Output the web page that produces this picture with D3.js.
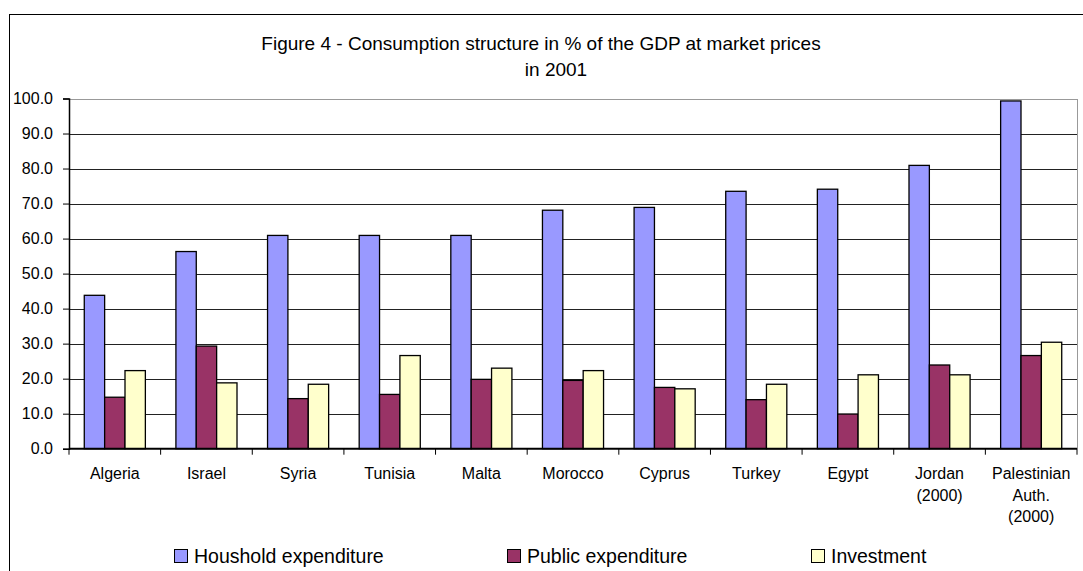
<!DOCTYPE html>
<meta charset="utf-8">
<style>
body { margin: 0; background: #fff; }
svg { font-family: "Liberation Sans", Arial, sans-serif; }
</style>
<body>
<script src="https://cdn.jsdelivr.net/npm/d3@7"></script>
<script>
// values
var countries = ["Algeria", "Israel", "Syria", "Tunisia", "Malta", "Morocco", "Cyprus",
                 "Turkey", "Egypt", "Jordan\n(2000)", "Palestinian\nAuth.\n(2000)"];
var household = [43.8, 56.3, 60.9, 60.9, 60.9, 68.1, 68.9, 73.5, 74.1, 80.9, 99.3];
var publicExp = [14.7, 29.3, 14.3, 15.5, 19.8, 19.5, 17.5, 14.0, 9.9, 23.9, 26.6];
var investment = [22.3, 18.8, 18.4, 26.6, 23.0, 22.3, 17.1, 18.4, 21.1, 21.1, 30.4];
var seriesNames = ["Houshold expenditure", "Public expenditure", "Investment"];
var seriesColors = ["#9999ff", "#993366", "#ffffcc"];
var yTicks = [0, 10, 20, 30, 40, 50, 60, 70, 80, 90, 100];

var W = 1083, H = 571;
var plotL = 69, plotR = 1077, plotT = 98.5, plotB = 448.7;

var svg = d3.select("body").append("svg")
    .attr("width", W)
    .attr("height", H);

// outer chart border (runs off the picture on right and bottom)
svg.append("rect")
    .attr("x", 9.5).attr("y", 14.5)
    .attr("width", W).attr("height", H)
    .style("fill", "none")
    .style("stroke", "#000");

svg.append("text")
    .attr("x", 541).attr("y", 50)
    .style("text-anchor", "middle")
    .style("font-size", "19px")
    .text("Figure 4 - Consumption structure in % of the GDP at market prices");
svg.append("text")
    .attr("x", 556).attr("y", 76)
    .style("text-anchor", "middle")
    .style("font-size", "19px")
    .text("in 2001");

var x0 = d3.scaleBand().domain(d3.range(countries.length)).range([plotL, plotR]);
var barW = x0.bandwidth() / 4.5;
var x1 = d3.scaleBand().domain([0, 1, 2])
    .range([0, barW * 3]);

var y = d3.scaleLinear().domain([0, 100]).range([plotB, plotT]);

// gridlines
svg.append("g")
  .selectAll("line")
    .data(yTicks.filter(function(d) { return d > 0 && d < 100; }))
  .enter().append("line")
    .attr("x1", plotL).attr("x2", plotR)
    .attr("y1", function(d) { return Math.round(y(d)) + 0.5; })
    .attr("y2", function(d) { return Math.round(y(d)) + 0.5; })
    .style("stroke", "#222")
    .style("shape-rendering", "crispEdges");

// plot area border top/right in gray
svg.append("path")
    .attr("d", "M" + plotL + "," + (Math.round(plotT) + 0.5) + "H" + (plotR + 0.5) + "V" + plotB)
    .style("fill", "none")
    .style("stroke", "#999")
    .style("shape-rendering", "crispEdges");

var data = countries.map(function(c, i) { return [household[i], publicExp[i], investment[i]]; });

var groups = svg.append("g")
  .selectAll("g")
    .data(data)
  .enter().append("g")
    .attr("transform", function(d, i) { return "translate(" + (x0(i) + (x0.bandwidth() - barW * 3) / 2) + ",0)"; });

groups.selectAll("rect")
    .data(function(d) { return d; })
  .enter().append("rect")
    .attr("x", function(d, j) { return x1(j); })
    .attr("width", x1.bandwidth())
    .attr("y", function(d) { return y(d); })
    .attr("height", function(d) { return y(0) - y(d); })
    .style("fill", function(d, j) { return seriesColors[j]; })
    .style("stroke", "#000")
    .style("stroke-width", 1.3);

// y axis
var yAxis = svg.append("g")
    .attr("transform", "translate(" + plotL + ",0)")
    .call(d3.axisLeft(y).tickValues(yTicks).tickSize(6).tickFormat(d3.format(".1f")));
yAxis.select(".domain").style("stroke", "#000").style("stroke-width", 1.5);
yAxis.selectAll("text").style("font-size", "16px").attr("x", -16).attr("fill", "#000");

// x axis
var xAxis = svg.append("g")
    .attr("transform", "translate(0," + plotB + ")");
xAxis.append("line")
    .attr("x1", plotL).attr("x2", plotR)
    .style("stroke", "#000").style("stroke-width", 2);
xAxis.selectAll(".tk")
    .data(d3.range(countries.length + 1))
  .enter().append("line")
    .attr("class", "tk")
    .attr("x1", function(d) { return plotL + d * x0.step(); })
    .attr("x2", function(d) { return plotL + d * x0.step(); })
    .attr("y1", 0).attr("y2", 6)
    .style("stroke", "#000");

var lbl = xAxis.selectAll(".lbl")
    .data(countries)
  .enter().append("text")
    .attr("class", "lbl")
    .attr("x", function(d, i) { return x0(i) + x0.bandwidth() / 2; })
    .attr("y", 30.5)
    .style("text-anchor", "middle")
    .style("font-size", "16px");
lbl.each(function(d) {
  var t = d3.select(this);
  d.split("\n").forEach(function(line, k) {
    t.append("tspan")
      .attr("x", t.attr("x"))
      .attr("dy", k === 0 ? 0 : 21.5)
      .text(line);
  });
});

// legend
var legX = [174, 507, 811];
var legend = svg.selectAll(".legend")
    .data(seriesNames)
  .enter().append("g")
    .attr("class", "legend")
    .attr("transform", function(d, i) { return "translate(" + legX[i] + ",549)"; });
legend.append("rect")
    .attr("x", 0.5).attr("y", 0.5)
    .attr("width", 13).attr("height", 13)
    .style("fill", function(d, i) { return seriesColors[i]; })
    .style("stroke", "#000");
legend.append("text")
    .attr("x", 20).attr("y", 13.5)
    .style("font-size", "19.5px")
    .text(function(d) { return d; });
</script>
</body>
